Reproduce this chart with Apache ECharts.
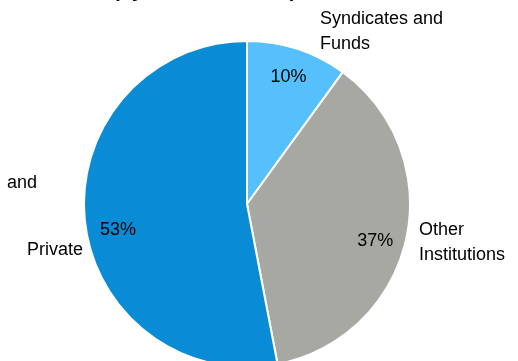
<!DOCTYPE html>
<html>
<head>
<meta charset="utf-8">
<script src="https://cdn.jsdelivr.net/npm/echarts@6/dist/echarts.min.js"></script>
<style>
  html, body { margin: 0; padding: 0; background: #fff; }
  #chart { width: 518px; height: 361px; }
</style>
</head>
<body>
<div id="chart"></div>
<script>
//数据
var names = ['Syndicates and\nFunds', 'Other\nInstitutions', 'and\nPrivate'];
var values = [10, 37, 53];
var colors = ['#55c0fb', '#a7a8a2', '#0a8bd6'];

var font = '"Liberation Sans", Arial, sans-serif';

//外侧标签位置(左上角)
var labelSpots = [
    { x: 320, y: 7, align: 'left' },
    { x: 419, y: 218, align: 'left' },
    { x: 7, y: 171, align: 'left' }
];
//内侧百分比标签的微调
var pctShift = [
    { dx: 0, dy: 1 },
    { dx: -3, dy: 8 },
    { dx: 5, dy: 13 }
];

var pieData = [];
for (var i = 0; i < values.length; i++) {
    pieData.push({ name: names[i], value: values[i], itemStyle: { color: colors[i] } });
}

var chart = echarts.init(document.getElementById('chart'));

var option = {
    animation: false,
    title: {
        text: '(by Investor Count)',
        left: 108,
        top: -24,
        textStyle: { fontFamily: font, fontSize: 20, fontWeight: 'bold', color: '#000' }
    },
    series: [
        {
            type: 'pie',
            radius: [0, 163],
            center: [247, 204],
            startAngle: 90,
            clockwise: true,
            silent: true,
            itemStyle: { borderColor: '#fff', borderWidth: 2 },
            label: {
                show: true,
                position: 'outside',
                overflow: 'none',
                fontFamily: font,
                fontSize: 18,
                lineHeight: 25,
                color: '#000',
                formatter: function (p) {
                    if (p.dataIndex === 2) {
                        return '{a|and}\n{b|Private}';
                    }
                    return p.name;
                },
                rich: {
                    a: { fontFamily: font, fontSize: 18, lineHeight: 25, color: '#000' },
                    b: { fontFamily: font, fontSize: 18, lineHeight: 109, color: '#000', padding: [0, 0, 0, 20] }
                }
            },
            labelLine: { show: false },
            labelLayout: function (p) {
                var s = labelSpots[p.dataIndex];
                return { x: s.x, y: s.y, align: s.align, verticalAlign: 'top' };
            },
            data: pieData
        },
        {
            type: 'pie',
            radius: [100, 163],
            center: [247, 204],
            startAngle: 90,
            clockwise: true,
            silent: true,
            itemStyle: { color: 'transparent', borderWidth: 0 },
            label: {
                show: true,
                position: 'inside',
                fontFamily: font,
                fontSize: 18,
                color: '#000',
                formatter: '{c}%'
            },
            labelLine: { show: false },
            labelLayout: function (p) {
                return { dx: pctShift[p.dataIndex].dx, dy: pctShift[p.dataIndex].dy };
            },
            data: values.slice()
        }
    ]
};

chart.setOption(option);
</script>
</body>
</html>
